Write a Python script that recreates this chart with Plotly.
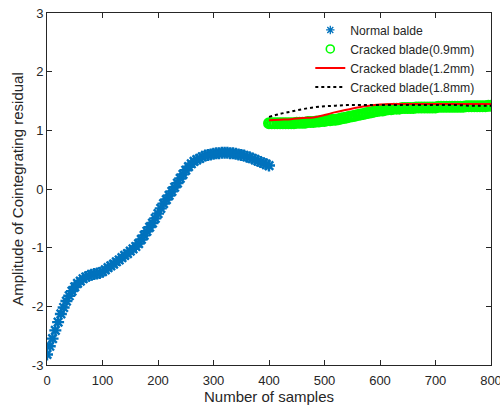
import plotly.graph_objects as go

# Normal blade (samples 0..400, step 5)
normal_x = list(range(0, 401, 5))
normal_y = [-2.82, -2.68, -2.55, -2.41, -2.27, -2.13, -2.02, -1.91, -1.82, -1.74,
            -1.67, -1.61, -1.57, -1.53, -1.50, -1.48, -1.46, -1.45, -1.44, -1.43,
            -1.41, -1.38, -1.34, -1.31, -1.28, -1.24, -1.21, -1.17, -1.13, -1.10,
            -1.06, -1.02, -0.98, -0.93, -0.86, -0.79, -0.72, -0.65, -0.58, -0.50,
            -0.42, -0.33, -0.25, -0.18, -0.11, -0.04, 0.03, 0.10, 0.18, 0.25,
            0.32, 0.38, 0.43, 0.47, 0.50, 0.52, 0.55, 0.57, 0.58, 0.59,
            0.60, 0.61, 0.61, 0.62, 0.62, 0.62, 0.61, 0.61, 0.60, 0.59,
            0.58, 0.57, 0.55, 0.54, 0.52, 0.50, 0.48, 0.46, 0.44, 0.42, 0.40]

# Cracked blade 0.9 mm (samples 400..800, step 5)
c09_x = list(range(400, 801, 5))
c09_y = [1.12, 1.12, 1.12, 1.12, 1.12, 1.12, 1.12, 1.12, 1.12, 1.12,
         1.13, 1.13, 1.13, 1.13, 1.14, 1.14, 1.14, 1.15, 1.15, 1.16,
         1.16, 1.17, 1.17, 1.18, 1.18, 1.19, 1.20, 1.21, 1.22, 1.23,
         1.24, 1.25, 1.26, 1.27, 1.28, 1.29, 1.30, 1.31, 1.32, 1.33,
         1.34, 1.34, 1.35, 1.36, 1.36, 1.37, 1.37, 1.37, 1.38, 1.38,
         1.38, 1.38, 1.38, 1.39, 1.39, 1.39, 1.39, 1.39, 1.39, 1.39,
         1.39, 1.40, 1.40, 1.40, 1.40, 1.40, 1.40, 1.40, 1.40, 1.40,
         1.40, 1.41, 1.41, 1.41, 1.41, 1.41, 1.41, 1.41, 1.41, 1.42, 1.42]

# Cracked blade 1.2 mm (samples 400..800, step 20)
c12_x = list(range(400, 801, 20))
c12_y = [1.17, 1.18, 1.19, 1.21, 1.22, 1.26, 1.31, 1.35, 1.39, 1.42, 1.44,
         1.45, 1.45, 1.45, 1.45, 1.45, 1.45, 1.45, 1.45, 1.45, 1.45]

# Cracked blade 1.8 mm (samples 400..800, step 20)
c18_x = list(range(400, 801, 20))
c18_y = [1.23, 1.28, 1.32, 1.36, 1.39, 1.41, 1.42, 1.43, 1.43, 1.43, 1.43,
         1.43, 1.43, 1.43, 1.43, 1.43, 1.43, 1.43, 1.42, 1.42, 1.42]

series_names = ["Normal balde", "Cracked blade(0.9mm)",
                "Cracked blade(1.2mm)", "Cracked blade(1.8mm)"]

x_ticks = [0, 100, 200, 300, 400, 500, 600, 700, 800]
x_tick_labels = ["0", "100", "200", "300", "400", "500", "600", "700", "800"]
y_ticks = [-3, -2, -1, 0, 1, 2, 3]
y_tick_labels = ["-3", "-2", "-1", "0", "1", "2", "3"]

FONT = "Arial, 'Liberation Sans', sans-serif"
TXT = "#262626"
BLUE = "#0072BD"
GREEN = "#00FF00"

fig = go.Figure()
# data traces
fig.add_trace(go.Scatter(
    x=normal_x, y=normal_y, mode="markers", showlegend=False,
    marker=dict(symbol="asterisk-open", size=10, color=BLUE,
                line=dict(color=BLUE, width=2.4))))
fig.add_trace(go.Scatter(
    x=c09_x, y=c09_y, mode="markers", showlegend=False,
    marker=dict(symbol="circle-open", size=9, color=GREEN,
                line=dict(color=GREEN, width=3))))
fig.add_trace(go.Scatter(
    x=c12_x, y=c12_y, mode="lines", showlegend=False,
    line=dict(color="#FF0000", width=2, shape="spline")))
fig.add_trace(go.Scatter(
    x=c18_x, y=c18_y, mode="lines", showlegend=False,
    line=dict(color="#000000", width=2, dash="dot", shape="spline")))

# legend-only entries (small symbols like the reference legend)
fig.add_trace(go.Scatter(
    x=[None], y=[None], mode="markers", name=series_names[0],
    marker=dict(symbol="asterisk-open", size=7, color=BLUE,
                line=dict(color=BLUE, width=1.3))))
fig.add_trace(go.Scatter(
    x=[None], y=[None], mode="markers", name=series_names[1],
    marker=dict(symbol="circle-open", size=8, color=GREEN,
                line=dict(color=GREEN, width=1.6))))
fig.add_trace(go.Scatter(
    x=[None], y=[None], mode="lines", name=series_names[2],
    line=dict(color="#FF0000", width=2)))
fig.add_trace(go.Scatter(
    x=[None], y=[None], mode="lines", name=series_names[3],
    line=dict(color="#000000", width=2, dash="dot")))

axis_common = dict(
    showline=True, linecolor=TXT, linewidth=1, mirror="ticks",
    ticks="inside", ticklen=5, tickcolor=TXT, showgrid=False, zeroline=False,
    ticklabeloverflow="allow", automargin=True,
    tickfont=dict(family=FONT, size=13, color=TXT),
)

fig.update_layout(
    width=500, height=407,
    margin=dict(l=47, r=9, t=13, b=42, autoexpand=False),
    plot_bgcolor="white", paper_bgcolor="white",
    font=dict(family=FONT, color=TXT),
    showlegend=True,
    legend=dict(x=0.593, y=0.993, xanchor="left", yanchor="top",
                bgcolor="rgba(255,255,255,0)", borderwidth=0,
                font=dict(family=FONT, size=12.2, color=TXT),
                tracegroupgap=0),
    xaxis=dict(range=[0, 800], tickvals=x_ticks, ticktext=x_tick_labels,
               ticklabelstandoff=3,
               title=dict(text="Number of samples", standoff=3,
                          font=dict(family=FONT, size=15, color=TXT)),
               **axis_common),
    yaxis=dict(range=[-3, 3], tickvals=y_ticks, ticktext=y_tick_labels,
               title=dict(text="Amplitude of Cointegrating residual", standoff=4,
                          font=dict(family=FONT, size=15, color=TXT)),
               **axis_common),
)

fig.write_html("out.html")
